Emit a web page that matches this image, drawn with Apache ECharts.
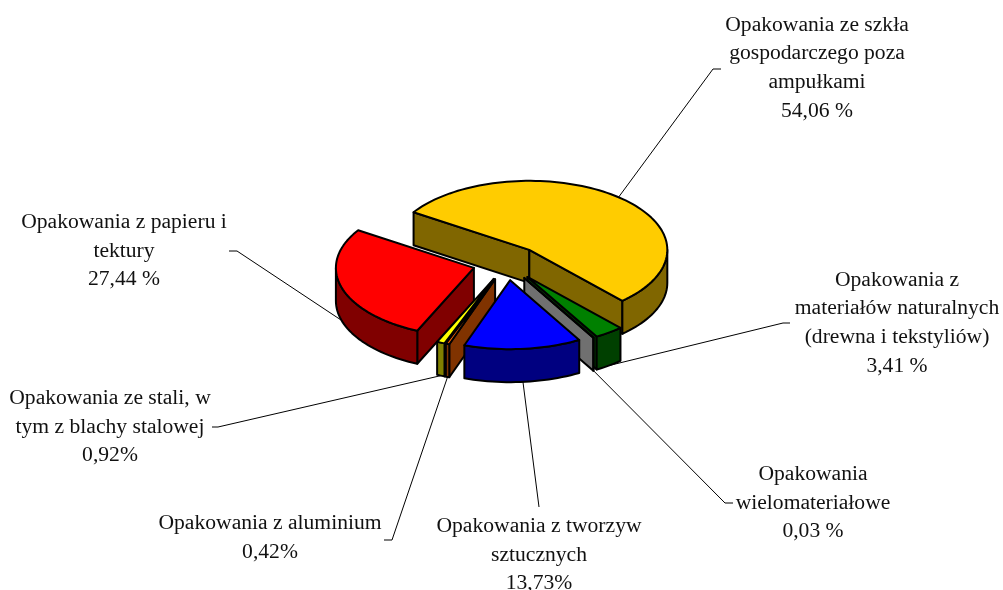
<!DOCTYPE html>
<html>
<head>
<meta charset="utf-8">
<style>
  html, body { margin: 0; padding: 0; background: #fff; }
  #chart { width: 1003px; height: 590px; }
</style>
<script src="https://cdn.jsdelivr.net/npm/echarts@6/dist/echarts.min.js"></script>
</head>
<body>
<div id="chart"></div>
<script>
// dane (kolejnosc zgodna z ruchem wskazowek zegara)
const categories = [
  'Opakowania ze szkła\ngospodarczego poza\nampułkami',
  'Opakowania z\nmateriałów naturalnych\n(drewna i tekstyliów)',
  'Opakowania\nwielomateriałowe',
  'Opakowania z tworzyw\nsztucznych',
  'Opakowania z aluminium',
  'Opakowania ze stali, w\ntym z blachy stalowej',
  'Opakowania z papieru i\ntektury'
];
const values = [54.06, 3.41, 0.03, 13.73, 0.42, 0.92, 27.44];
const valueLabels = ['54,06 %', '3,41 %', '0,03 %', '13,73%', '0,42%', '0,92%', '27,44 %'];

const topColors = ['#ffcc00', '#008000', '#808080', '#0000ff', '#ff6600', '#ffff00', '#ff0000'];
const sideColors = ['#806600', '#004000', '#707070', '#000080', '#803300', '#808000', '#800000'];
// kolejnosc rysowania od tylu do przodu
const drawRank = [0, 1, 2, 6, 5, 4, 3];

// polozenie opisow i linii odniesienia
const labelCenters = [[817, 68], [897, 323], [813, 503], [539, 555], [270, 538], [110, 427], [124, 251]];
const leaderElbows = [[713, 69], [783, 323], [725, 503], [539, 507], [392, 540], [218, 427], [237, 251]];
const leaderEnds = [[721, 69], [790, 323], [733, 503], [539, 507], [384, 540], [212, 427], [229, 251]];

const pie = { cx: 507, cy: 263, rx: 138, ry: 69, depth: 33, explode: 0.25, startAngle: -57 };
const total = values.reduce((a, b) => a + b, 0);

const rad = (deg) => deg * Math.PI / 180;
const rimPoint = (c, t) => [c[0] + pie.rx * Math.sin(rad(t)), c[1] - pie.ry * Math.cos(rad(t))];
const drop = (p) => [p[0], p[1] + pie.depth];

const arcPoints = (c, from, to) => {
  const pts = [];
  const steps = Math.max(1, Math.ceil((to - from) / 2));
  for (let i = 0; i <= steps; i++) {
    pts.push(rimPoint(c, from + (to - from) * i / steps));
  }
  return pts;
};

const face = (points, fill, z2) => ({
  type: 'polygon',
  z2,
  shape: { points },
  style: { fill, stroke: '#000', lineWidth: 2, lineJoin: 'round' }
});

const sliceAngles = (index) => {
  const before = values.slice(0, index).reduce((a, b) => a + b, 0);
  return [
    pie.startAngle + before / total * 360,
    pie.startAngle + (before + values[index]) / total * 360
  ];
};

const renderSlice = (params, api) => {
  const i = params.dataIndex;
  const value = api.value(0);
  const z2 = drawRank[i];
  const [t1, t2] = sliceAngles(i);
  const mid = (t1 + t2) / 2;
  // wysuniecie wycinka wzdluz dwusiecznej
  const c = [
    pie.cx + pie.explode * pie.rx * Math.sin(rad(mid)),
    pie.cy - pie.explode * pie.ry * Math.cos(rad(mid))
  ];
  const children = [];

  if (Math.sin(rad(t1)) < 0) {
    const p = rimPoint(c, t1);
    children.push(face([c, p, drop(p), drop(c)], sideColors[i], z2));
  }
  if (Math.sin(rad(t2)) > 0) {
    const p = rimPoint(c, t2);
    children.push(face([c, p, drop(p), drop(c)], sideColors[i], z2));
  }
  // zewnetrzna scianka tylko na przedniej polowie elipsy
  const from = Math.max(t1, 90);
  const to = Math.min(t2, 270);
  if (to > from) {
    const rim = arcPoints(c, from, to);
    children.push(face(rim.concat(rim.map(drop).reverse()), sideColors[i], z2));
  }
  children.push(face([c].concat(arcPoints(c, t1, t2)), topColors[i], z2));

  // linia odniesienia zaczyna sie na krawedzi wycinka
  let anchor = rimPoint(c, mid);
  if (Math.cos(rad(mid)) < 0) anchor = drop(anchor);
  children.push({
    type: 'polyline',
    z2: 50,
    shape: { points: [anchor, leaderElbows[i], leaderEnds[i]] },
    style: { fill: null, stroke: '#000', lineWidth: 1 }
  });
  children.push({
    type: 'text',
    z2: 60,
    style: {
      text: categories[i] + '\n' + valueLabels[i],
      x: labelCenters[i][0],
      y: labelCenters[i][1],
      align: 'center',
      verticalAlign: 'middle',
      fontFamily: '"Liberation Serif", serif',
      fontSize: 21.6,
      lineHeight: 28.7,
      fill: '#111'
    }
  });
  return { type: 'group', info: value, children };
};

const chart = echarts.init(document.getElementById('chart'));
chart.setOption({
  backgroundColor: '#fff',
  animation: false,
  series: [{
    type: 'custom',
    coordinateSystem: 'none',
    renderItem: renderSlice,
    data: values.map((v) => [v]),
    silent: true
  }]
});
window.addEventListener('resize', () => chart.resize());
</script>
</body>
</html>
